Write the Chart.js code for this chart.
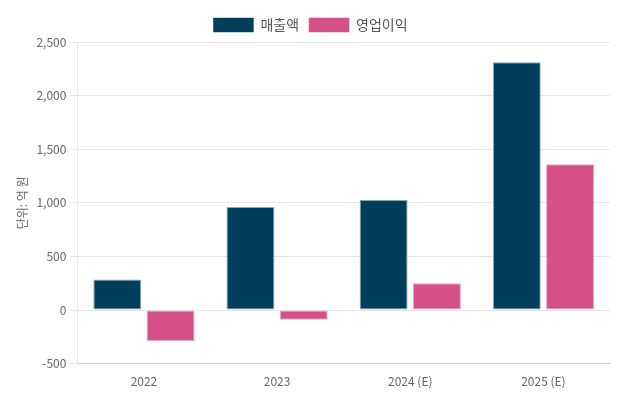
<!DOCTYPE html>
<html>
<head>
<meta charset="utf-8">
<script src="https://cdn.jsdelivr.net/npm/chart.js@4"></script>
<style>
  html, body { margin: 0; padding: 0; background: #fff; }
  #wrap { width: 622px; height: 398px; }
</style>
</head>
<body>
<div id="wrap"><canvas id="salesChart"></canvas></div>
<script>
// 매출액 / 영업이익 (단위: 억 원)
const years = ['2022', '2023', '2024 (E)', '2025 (E)'];
const revenue = [285, 960, 1025, 2310];
const operatingProfit = [-290, -90, 250, 1360];

const fontFamily = "'Noto Sans CJK KR', 'Noto Sans', sans-serif";

const ctx = document.getElementById('salesChart').getContext('2d');
new Chart(ctx, {
    type: 'bar',
    data: {
        labels: years,
        datasets: [{
            label: '매출액',
            data: revenue,
            backgroundColor: '#003f5c',
            borderColor: 'rgba(0, 63, 92, 0.45)',
            borderWidth: 1,
            borderSkipped: false
        }, {
            label: '영업이익',
            data: operatingProfit,
            backgroundColor: '#d45087',
            borderColor: 'rgba(212, 80, 135, 0.5)',
            borderWidth: 1,
            borderSkipped: false
        }]
    },
    options: {
        responsive: true,
        maintainAspectRatio: false,
        animation: false,
        layout: { padding: { left: 11, right: 12, top: 8, bottom: 6 } },
        plugins: {
            legend: {
                position: 'top',
                labels: {
                    boxWidth: 40,
                    boxHeight: 14,
                    color: '#555',
                    font: { family: fontFamily, size: 14 }
                }
            },
            tooltip: { enabled: false }
        },
        scales: {
            x: {
                grid: { display: false },
                border: { color: '#cccccc' },
                ticks: { color: '#666', font: { family: fontFamily, size: 12 } }
            },
            y: {
                min: -500,
                max: 2500,
                ticks: {
                    stepSize: 500,
                    color: '#666',
                    font: { family: fontFamily, size: 12 },
                    callback: function(value) {
                        return value.toLocaleString('en-US');
                    }
                },
                grid: { color: '#e6e6e6' },
                border: { color: '#e6e6e6' },
                title: {
                    display: true,
                    text: '단위: 억 원',
                    color: '#666',
                    font: { family: fontFamily, size: 12 }
                }
            }
        }
    }
});
</script>
</body>
</html>
